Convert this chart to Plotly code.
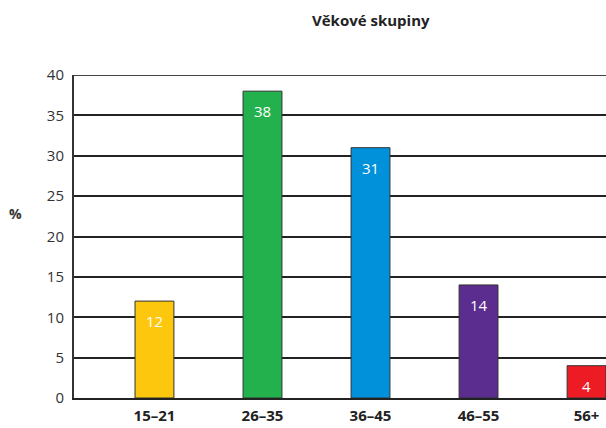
import plotly.graph_objects as go

# Age-group distribution in percent
categories = ["15–21", "26–35", "36–45", "46–55", "56+"]
values = [12, 38, 31, 14, 4]
colors = ["#FDC70E", "#22B14C", "#0091DA", "#5B2D8E", "#ED1C24"]
y_ticks = [0, 5, 10, 15, 20, 25, 30, 35, 40]

FONT = "Open Sans"

fig = go.Figure()
fig.add_trace(go.Bar(
    x=categories,
    y=values,
    width=0.36,
    marker=dict(color=colors, line=dict(color="#333333", width=1)),
    hoverinfo="skip",
))

# value labels, white, just below each bar top
for cat, val in zip(categories, values):
    fig.add_annotation(
        x=cat, y=val, text=str(val), showarrow=False,
        yanchor="top", yshift=-8,
        font=dict(family=FONT, size=15, color="white"),
    )

# title and axis unit
fig.add_annotation(
    xref="paper", yref="paper", x=(371 - 74) / 532, y=1 + (75 - 20) / 323,
    text="<b>Věkové skupiny</b>", showarrow=False,
    xanchor="center", yanchor="middle",
    font=dict(family=FONT, size=15, color="#222222"),
)
fig.add_annotation(
    xref="paper", yref="paper", x=-(74 - 15) / 532, y=(398 - 213) / 323,
    text="<b>%</b>", showarrow=False, xanchor="center", yanchor="middle",
    font=dict(family=FONT, size=14, color="#333333"),
)

fig.update_layout(
    width=606, height=428,
    margin=dict(l=74, r=0, t=75, b=30),
    paper_bgcolor="white", plot_bgcolor="white",
    showlegend=False,
    font=dict(family=FONT, color="#333333"),
    xaxis=dict(
        range=[-0.745, 4.18],
        showgrid=False, zeroline=False, automargin=False,
        showline=True, linecolor="#222222", linewidth=1.5,
        ticks="", ticklabelstandoff=3,
        tickfont=dict(family=FONT, size=15, color="#222222"),
        tickprefix="<b>", ticksuffix="</b>",
        fixedrange=True,
    ),
    yaxis=dict(
        range=[0, 40], tickvals=y_ticks, automargin=False,
        showgrid=True, gridcolor="#222222", gridwidth=1.5,
        zeroline=False,
        showline=True, linecolor="#333333", linewidth=2,
        ticks="", ticklabelstandoff=5,
        tickfont=dict(family=FONT, size=15, color="#333333"),
        fixedrange=True,
    ),
)

# top border of the plot area
fig.add_shape(type="line", xref="paper", yref="y", x0=0, x1=1, y0=40, y1=40,
              line=dict(color="#444444", width=2))

fig.write_html("out.html")
